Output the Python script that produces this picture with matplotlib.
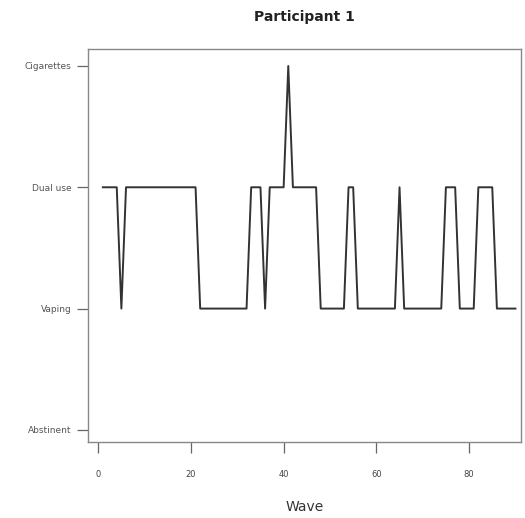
import numpy as np
import matplotlib.pyplot as plt

# smoking status per wave: 1 = Abstinent, 2 = Vaping, 3 = Dual use, 4 = Cigarettes
status_labels = ['Abstinent', 'Vaping', 'Dual use', 'Cigarettes']
status = [3, 3, 3, 3, 2, 3, 3, 3, 3, 3,
          3, 3, 3, 3, 3, 3, 3, 3, 3, 3,
          3, 2, 2, 2, 2, 2, 2, 2, 2, 2,
          2, 2, 3, 3, 3, 2, 3, 3, 3, 3,
          4, 3, 3, 3, 3, 3, 3, 2, 2, 2,
          2, 2, 2, 3, 3, 2, 2, 2, 2, 2,
          2, 2, 2, 2, 3, 2, 2, 2, 2, 2,
          2, 2, 2, 2, 3, 3, 3, 2, 2, 2,
          2, 3, 3, 3, 3, 2, 2, 2, 2, 2]
waves = np.arange(1, len(status) + 1)
x_ticks = [0, 20, 40, 60, 80]

fig = plt.figure(figsize=(5.25, 5.18), dpi=100)
ax = fig.add_axes([88 / 525, 76 / 518, 433 / 525, 393 / 518])

ax.plot(waves, status, color='#333333', lw=1.4)

ax.set_xlim(-2.2, 91.2)
ax.set_ylim(0.9, 4.14)
ax.set_xticks(x_ticks)
ax.set_yticks([1, 2, 3, 4])
ax.set_yticklabels(status_labels)

for sp in ax.spines.values():
    sp.set_color('#888888')
    sp.set_linewidth(1.0)

ax.tick_params(axis='y', direction='out', length=8, width=0.9, color='#666666',
               labelsize=6.5, labelcolor='#555555', pad=4)
ax.tick_params(axis='x', direction='out', length=8, width=0.9, color='#666666',
               labelsize=6, labelcolor='#444444', pad=12)

ax.set_xlabel('Wave', fontsize=10, color='#333333', labelpad=15)
ax.set_title('Participant 1', fontsize=10, fontweight='bold', color='#222222', pad=20)

fig.savefig('out.png', dpi=100)
